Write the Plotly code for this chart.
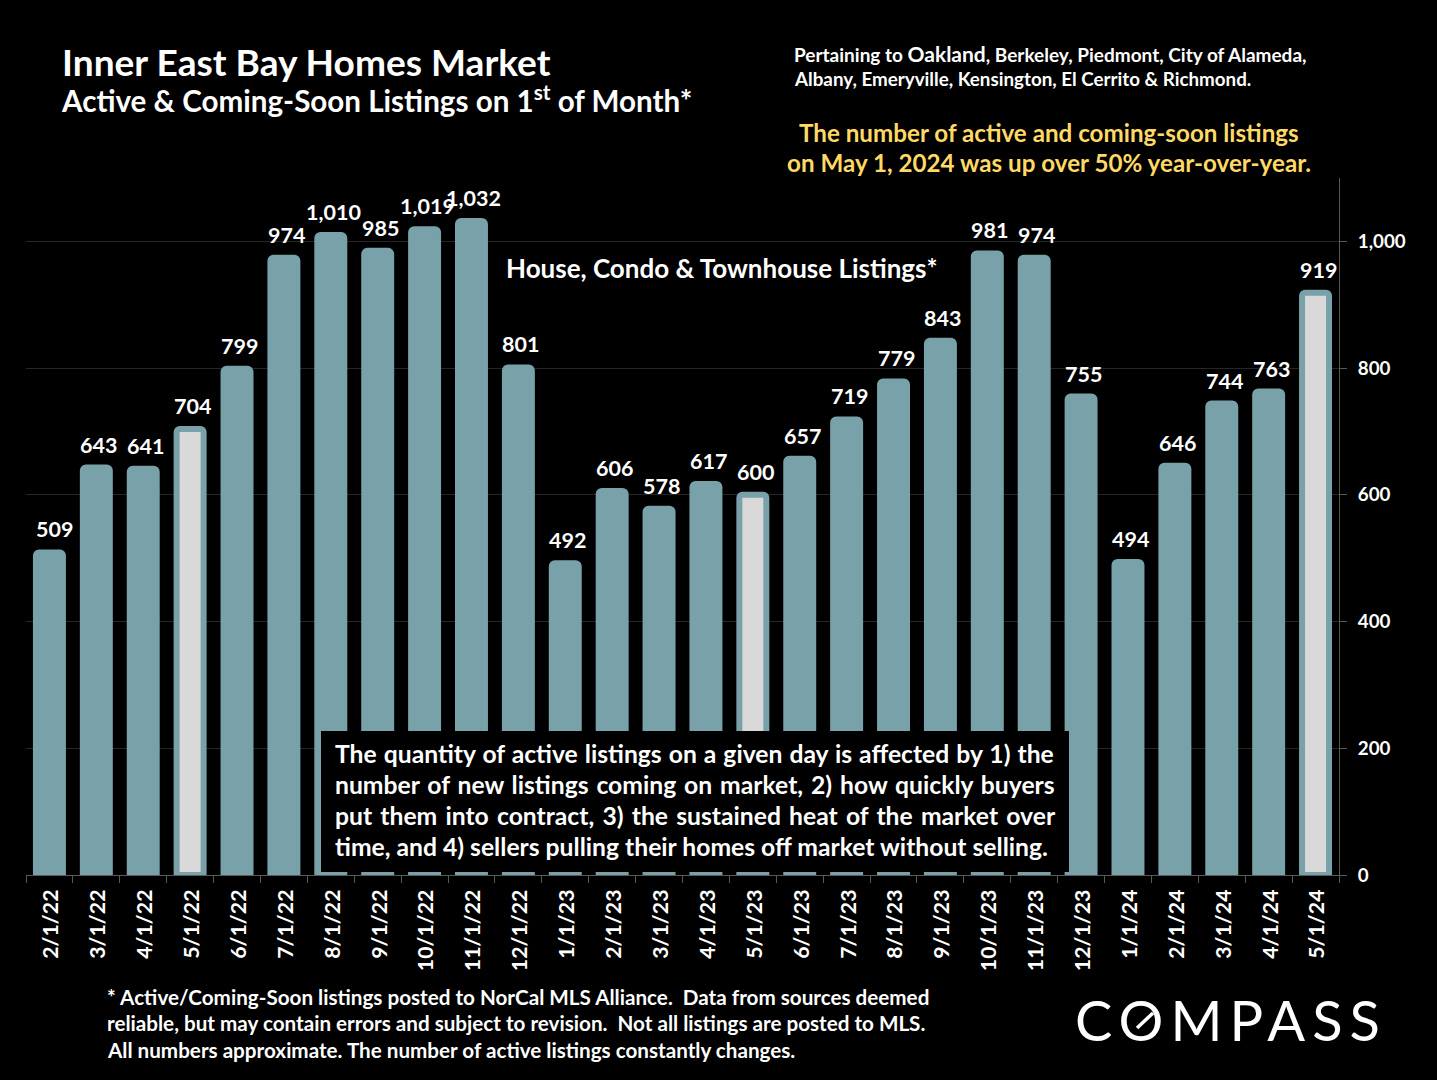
import plotly.graph_objects as go

dates = ["2/1/22","3/1/22","4/1/22","5/1/22","6/1/22","7/1/22","8/1/22","9/1/22","10/1/22","11/1/22","12/1/22",
         "1/1/23","2/1/23","3/1/23","4/1/23","5/1/23","6/1/23","7/1/23","8/1/23","9/1/23","10/1/23","11/1/23","12/1/23",
         "1/1/24","2/1/24","3/1/24","4/1/24","5/1/24"]
listings = [509,643,641,704,799,974,1010,985,1019,1032,801,492,606,578,617,600,657,719,779,843,981,974,755,494,646,744,763,919]
highlighted = ["5/1/22","5/1/23","5/1/24"]
y_ticks = [0,200,400,600,800,1000]

TEAL = "#78A1A9"
LIGHT = "#D9D9D9"
FONT = "Lato"
L, R, T, B = 26, 1339, 178, 875

def px(x): return (x - L) / (R - L)
def py(y): return (B - y) / (B - T)

colors = [LIGHT if d in highlighted else TEAL for d in dates]

fig = go.Figure(go.Bar(
    x=dates, y=listings, width=0.575,
    marker=dict(color=colors, line=dict(color=TEAL, width=6), cornerradius=3),
    cliponaxis=False, hoverinfo="x+y",
))

for i, (d, v) in enumerate(zip(dates, listings)):
    fig.add_annotation(x=d, y=v, text=f"{v:,}", showarrow=False, xanchor="center", yanchor="middle",
                       xshift=5.5 if i == 0 else 2.5, yshift=23,
                       font=dict(family=FONT, size=21.5, color="white", weight="bold"))

def text(x, y, s, size, color="white", anchor="left", weight="bold"):
    fig.add_annotation(xref="paper", yref="paper", x=px(x - 2 if anchor == "left" else x), y=py(y - 1),
                       text=s, showarrow=False, xanchor=anchor, yanchor="middle", align=anchor,
                       font=dict(family=FONT, size=size, color=color, weight=weight))

text(62, 63, "Inner East Bay Homes Market", 37.1)
text(61, 100, "Active &amp; Coming-Soon Listings on 1<sup>st</sup> of Month*", 29.6)
text(794, 55, 'Pertaining to <span style="font-size:21px">Oakland</span>, Berkeley, Piedmont, City of Alameda,', 19)
text(794, 80, "Albany, Emeryville, Kensington, El Cerrito &amp; Richmond.", 18.8)
text(1049, 133, "The number of active and coming-soon listings", 24.2, "#FFD966", "center")
text(1049, 163.5, "on May 1, 2024 was up over 50% year-over-year.", 24.2, "#FFD966", "center")
text(506, 269, "House, Condo &amp; Townhouse Listings*", 26)

fig.add_shape(type="rect", xref="paper", yref="paper", x0=px(321), x1=px(1069), y0=py(731), y1=py(872),
              fillcolor="black", line_width=0, layer="above")
box_lines = ["The quantity of active listings on a given day is affected by 1) the",
             "number of new listings coming on market, 2) how quickly buyers",
             "put them into contract, 3) the sustained heat of the market over",
             "time, and 4) sellers pulling their homes off market without selling."]
box_word_gaps = [1.0, 1.9, 2.2, 0.0]
for i, (s, g) in enumerate(zip(box_lines, box_word_gaps)):
    text(335, 754 + i * 31.3, f'<span style="word-spacing:{g}px">{s}</span>', 24.7)

foot = ["* Active/Coming-Soon listings posted to NorCal MLS Alliance.  Data from sources deemed",
        "reliable, but may contain errors and subject to revision.  Not all listings are posted to MLS.",
        "All numbers approximate. The number of active listings constantly changes."]
for i, s in enumerate(foot):
    text(107, 998 + i * 26.3, s, 20.65)

text(1231, 1020, '<span style="letter-spacing:7px">COMPASS</span>', 56, "white", "center", "normal")
fig.add_shape(type="line", xref="paper", yref="paper", x0=px(1137), y0=py(1028), x1=px(1153), y1=py(1013),
              line=dict(color="white", width=3.5), layer="above")

fig.update_layout(
    width=1437, height=1080, autosize=False, showlegend=False, bargap=0.4,
    paper_bgcolor="black", plot_bgcolor="black",
    margin=dict(l=L, r=1437 - R, t=T, b=1080 - B, pad=0),
    xaxis=dict(type="category", tickson="boundaries", ticks="outside", ticklen=7, tickcolor="#595959",
               tickwidth=1, showline=True, linecolor="#595959", linewidth=1, showgrid=False,
               tickangle=-90, ticklabelstandoff=5, ticklabelshift=2,
               tickfont=dict(family=FONT, size=21.3, color="white", weight="bold")),
    yaxis=dict(side="right", range=[0, 1100], tickvals=y_ticks, tickformat=",", ticks="outside", ticklen=7,
               tickcolor="#595959", showline=True, linecolor="#595959", linewidth=1,
               showgrid=True, gridcolor="#262626", gridwidth=1, zeroline=False, ticklabelstandoff=7,
               tickfont=dict(family=FONT, size=18.8, color="white", weight="bold")),
)
fig.write_html("out.html", post_script="document.body.style.margin='0';", config={"displayModeBar": False})
